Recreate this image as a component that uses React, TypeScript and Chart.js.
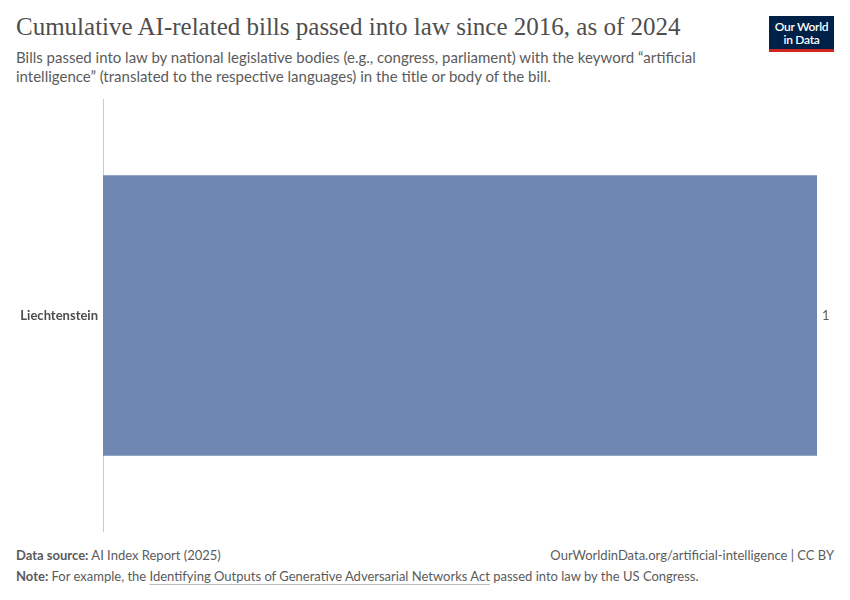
import React, { useEffect, useRef } from "react";
import { Chart, registerables } from "chart.js";

Chart.register(...registerables);

const categories: string[] = ["Liechtenstein"];
const billsPassed: number[] = [1];
const xMax = 1;

const valueLabelPlugin = {
  id: "valueLabels",
  afterDatasetsDraw(chart: any) {
    const ctx = chart.ctx;
    const meta = chart.getDatasetMeta(0);
    ctx.save();
    ctx.font = "13px Lato";
    ctx.fillStyle = "#5b5b5b";
    ctx.textAlign = "left";
    ctx.textBaseline = "middle";
    meta.data.forEach((el: any, i: number) => {
      ctx.fillText(String(billsPassed[i]), el.x + 5, el.y);
    });
    ctx.restore();
  },
};

export default function App() {
  const canvasRef = useRef<HTMLCanvasElement | null>(null);

  useEffect(() => {
    if (!canvasRef.current) return;
    const chart = new Chart(canvasRef.current, {
      type: "bar",
      data: {
        labels: categories,
        datasets: [
          {
            data: billsPassed,
            backgroundColor: "#6e88b1",
            borderWidth: 0,
            categoryPercentage: 0.65,
            barPercentage: 1,
          },
        ],
      },
      options: {
        indexAxis: "y",
        animation: false,
        responsive: false,
        maintainAspectRatio: false,
        layout: { padding: { left: 0, right: 33, top: 0, bottom: 0 } },
        plugins: {
          legend: { display: false },
          tooltip: { enabled: false },
          title: { display: false },
        },
        scales: {
          x: {
            display: false,
            min: 0,
            max: xMax,
          },
          y: {
            grid: { display: false, drawTicks: false },
            border: { display: true, color: "#cccccc", width: 1 },
            ticks: {
              padding: 5,
              color: "#4d4d4d",
              font: { family: "Lato", size: 13, weight: "bold" },
            },
            afterFit(scale: any) {
              scale.width = 103;
            },
          },
        },
      },
      plugins: [valueLabelPlugin],
    });
    return () => chart.destroy();
  }, []);

  const sans = "Lato, 'Noto Sans', sans-serif";
  return (
    <div
      style={{
        position: "fixed",
        left: 0,
        top: 0,
        width: 850,
        height: 600,
        background: "#ffffff",
        fontFamily: sans,
        overflow: "hidden",
      }}
    >
      <div
        style={{
          position: "absolute",
          left: 16,
          top: 12,
          fontFamily: "'Liberation Serif', 'DejaVu Serif', serif",
          fontSize: 25,
          color: "#4e4e4e",
          whiteSpace: "nowrap",
          lineHeight: "30px",
        }}
      >
        Cumulative AI-related bills passed into law since 2016, as of 2024
      </div>
      <div
        style={{
          position: "absolute",
          left: 16,
          top: 48,
          width: 720,
          fontSize: 15,
          color: "#5b5b5b",
          lineHeight: "19px",
        }}
      >
        Bills passed into law by national legislative bodies (e.g., congress, parliament) with the keyword “artificial
        <br />
        intelligence” (translated to the respective languages) in the title or body of the bill.
      </div>
      <div
        style={{
          position: "absolute",
          left: 769,
          top: 16,
          width: 65,
          height: 36,
          background: "#002147",
          borderBottom: "3px solid #ce261e",
          color: "#ffffff",
          fontSize: 12,
          fontWeight: 600,
          lineHeight: "13px",
          textAlign: "center",
          paddingTop: 4,
          boxSizing: "border-box",
          letterSpacing: -0.3,
        }}
      >
        Our World
        <br />
        in Data
      </div>
      <canvas
        ref={canvasRef}
        width={850}
        height={457}
        style={{ position: "absolute", left: 0, top: 87, width: 850, height: 457 }}
      />
      <div
        style={{
          position: "absolute",
          left: 16,
          top: 547,
          fontSize: 13,
          color: "#5b5b5b",
          whiteSpace: "nowrap",
        }}
      >
        <b>Data source:</b> AI Index Report (2025)
      </div>
      <div
        style={{
          position: "absolute",
          right: 16,
          top: 547,
          fontSize: 13,
          color: "#5b5b5b",
          whiteSpace: "nowrap",
        }}
      >
        OurWorldinData.org/artificial-intelligence | CC BY
      </div>
      <div
        style={{
          position: "absolute",
          left: 16,
          top: 568,
          fontSize: 13,
          color: "#5b5b5b",
          whiteSpace: "nowrap",
        }}
      >
        <b>Note:</b> For example, the{" "}
        <span style={{ textDecoration: "underline", textDecorationColor: "#bbbbbb", textUnderlineOffset: 3 }}>
          Identifying Outputs of Generative Adversarial Networks Act
        </span>{" "}
        passed into law by the US Congress.
      </div>
    </div>
  );
}
